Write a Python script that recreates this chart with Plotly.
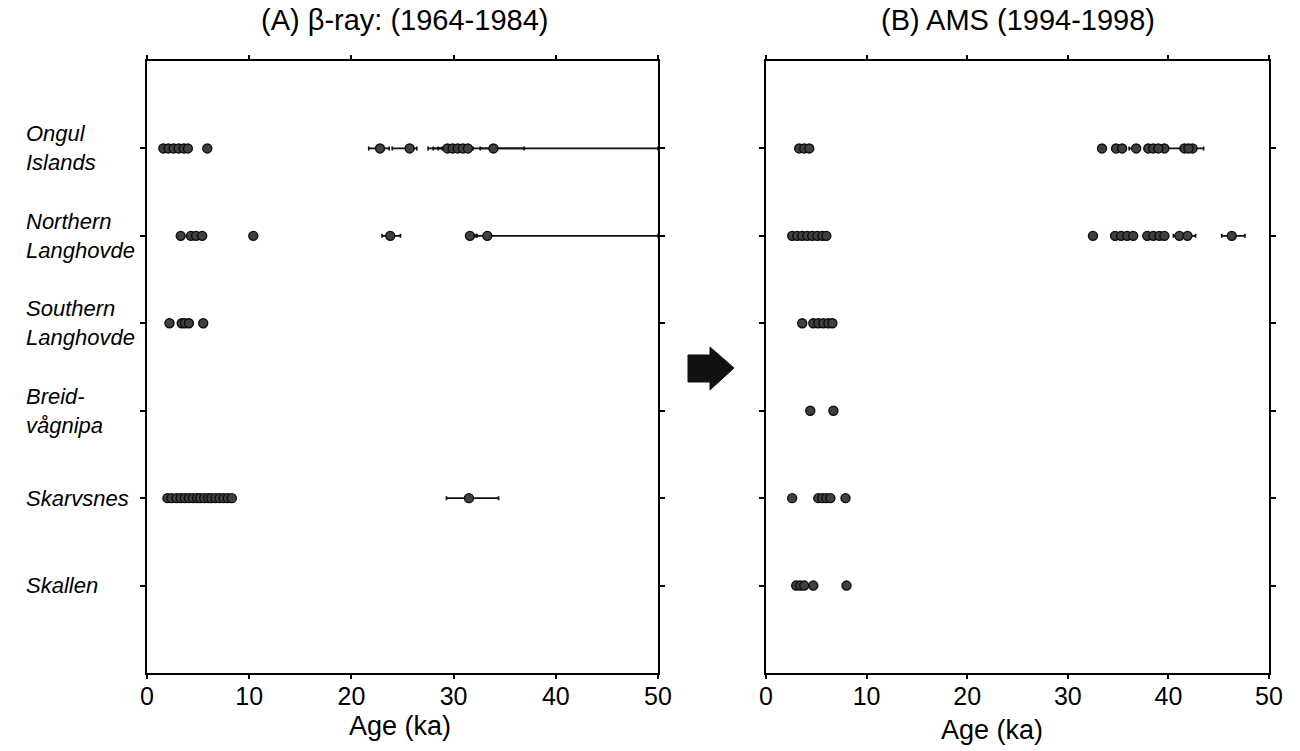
import plotly.graph_objects as go

# ---------------- data ----------------
sites = ["Ongul<br>Islands", "Northern<br>Langhovde", "Southern<br>Langhovde",
         "Breid-<br>vågnipa", "Skarvsnes", "Skallen"]
site_pos = [1, 2, 3, 4, 5, 6]

# Panel A : beta-ray dates (ka) -- points without visible error bars
a_ongul = [1.6, 2.1, 2.6, 3.1, 3.6, 4.0, 5.9]
a_northern = [3.3, 4.3, 4.8, 5.4, 10.4]
a_southern = [2.2, 3.4, 3.7, 4.1, 5.5]
a_breid = []
a_skarvsnes = [2.0, 2.4, 2.9, 3.3, 3.7, 4.1, 4.5, 4.9, 5.2, 5.6, 6.0, 6.3,
               6.7, 7.1, 7.5, 7.9, 8.3]
a_skallen = []

# Panel A : dates with error bars (age, minus, plus)
a_ongul_err_age = [22.8, 25.7, 29.4, 29.9, 30.4, 30.9, 31.4, 33.9]
a_ongul_err_minus = [1.1, 1.7, 1.9, 1.9, 1.9, 2.0, 1.0, 1.3]
a_ongul_err_plus = [0.9, 0.7, 1.0, 1.0, 1.0, 1.0, 5.5, 16.1]
a_northern_err_age = [23.8, 31.6, 33.3]
a_northern_err_minus = [0.8, 0.4, 1.0]
a_northern_err_plus = [1.0, 0.6, 16.7]
a_skarvsnes_err_age = [31.5]
a_skarvsnes_err_minus = [2.2]
a_skarvsnes_err_plus = [2.9]

# Panel B : AMS dates (ka)
b_ongul = [3.3, 3.8, 4.3, 33.4, 34.8, 35.4, 38.0, 38.5, 39.0, 41.6, 42.0]
b_northern = [2.6, 3.1, 3.6, 4.1, 4.6, 5.1, 5.6, 6.0, 32.5, 34.7, 35.3, 35.9,
              36.5, 37.9, 38.5, 39.1, 39.6]
b_southern = [3.6, 4.7, 5.2, 5.7, 6.2, 6.6]
b_breid = [4.4, 6.7]
b_skarvsnes = [2.6, 5.2, 5.6, 6.0, 6.4, 7.9]
b_skallen = [3.0, 3.4, 3.8, 4.7, 8.0]

b_ongul_err_age = [36.8, 39.6, 42.4]
b_ongul_err_minus = [0.7, 0.0, 1.0]
b_ongul_err_plus = [0.0, 1.6, 1.1]
b_northern_err_age = [41.1, 41.9, 46.3]
b_northern_err_minus = [0.6, 0.0, 1.0]
b_northern_err_plus = [0.0, 0.8, 1.3]

x_ticks = [0, 10, 20, 30, 40, 50]

# ---------------- figure ----------------
W, H = 1300, 751
ML, MR, MT, MB = 147, 31, 61, 78
PW = W - ML - MR
PH = H - MT - MB


def px(x):
    return (x - ML) / PW


def py(y):
    return (H - MB - y) / PH


MARK = dict(size=9, color="#404040", line=dict(color="#0d0d0d", width=1.4))

fig = go.Figure()


def add_plain(vals, row, xa, ya):
    if not vals:
        return
    fig.add_trace(go.Scatter(x=vals, y=[site_pos[row]] * len(vals), mode="markers",
                             marker=MARK, xaxis=xa, yaxis=ya, showlegend=False,
                             hoverinfo="x"))


def add_err(vals, em, ep, row, xa, ya):
    fig.add_trace(go.Scatter(
        x=vals, y=[site_pos[row]] * len(vals), mode="markers", marker=MARK,
        error_x=dict(type="data", symmetric=False, array=ep, arrayminus=em,
                     color="#111111", thickness=1.7, width=2),
        xaxis=xa, yaxis=ya, showlegend=False, hoverinfo="x"))


# Panel A
add_err(a_ongul_err_age, a_ongul_err_minus, a_ongul_err_plus, 0, "x", "y")
add_err(a_northern_err_age, a_northern_err_minus, a_northern_err_plus, 1, "x", "y")
add_err(a_skarvsnes_err_age, a_skarvsnes_err_minus, a_skarvsnes_err_plus, 4, "x", "y")
for i, vals in enumerate([a_ongul, a_northern, a_southern, a_breid, a_skarvsnes, a_skallen]):
    add_plain(vals, i, "x", "y")

# Panel B
add_err(b_ongul_err_age, b_ongul_err_minus, b_ongul_err_plus, 0, "x2", "y2")
add_err(b_northern_err_age, b_northern_err_minus, b_northern_err_plus, 1, "x2", "y2")
for i, vals in enumerate([b_ongul, b_northern, b_southern, b_breid, b_skarvsnes, b_skallen]):
    add_plain(vals, i, "x2", "y2")

FONT = "Liberation Sans, Arial, Helvetica, sans-serif"

xcommon = dict(range=[0, 50], tickvals=x_ticks, ticks="outside", ticklen=4, tickwidth=1.5,
               tickcolor="black", showline=True, linecolor="black", linewidth=2,
               mirror="ticks", showgrid=False, zeroline=False, ticklabelstandoff=-4,
               tickfont=dict(family=FONT, size=25, color="black"))
ycommon = dict(range=[7, 0], tickvals=site_pos, ticks="outside", ticklen=5, tickwidth=1.5,
               tickcolor="black", showline=True, linecolor="black", linewidth=2,
               mirror="ticks", showgrid=False, zeroline=False, showticklabels=False)

xA0, xA1 = 147, 658
xB0, xB1 = 766, 1269

fig.update_layout(
    width=W, height=H, margin=dict(l=ML, r=MR, t=MT, b=MB),
    paper_bgcolor="white", plot_bgcolor="white",
    xaxis=dict(domain=[px(xA0), px(xA1)], anchor="y", **xcommon),
    yaxis=dict(domain=[0, 1], anchor="x", **ycommon),
    xaxis2=dict(domain=[px(xB0), px(xB1)], anchor="y2", **xcommon),
    yaxis2=dict(domain=[0, 1], anchor="x2", **ycommon),
    font=dict(family=FONT, color="black"),
)

annots = []
# site labels
for lab, pos in zip(sites, site_pos):
    annots.append(dict(text="<i>" + lab + "</i>", x=px(24), xref="paper", xanchor="left",
                       y=pos, yref="y", yanchor="middle", align="left", showarrow=False,
                       font=dict(family=FONT, size=22, color="black")))
# panel titles
annots.append(dict(text="(A) β-ray: (1964-1984)", x=px(404), xref="paper", xanchor="center",
                   y=py(20), yref="paper", yanchor="middle", showarrow=False,
                   font=dict(family=FONT, size=29, color="black")))
annots.append(dict(text="(B) AMS (1994-1998)", x=px(1018), xref="paper", xanchor="center",
                   y=py(20), yref="paper", yanchor="middle", showarrow=False,
                   font=dict(family=FONT, size=29, color="black")))
# axis titles
annots.append(dict(text="Age (ka)", x=px(400), xref="paper", xanchor="center",
                   y=py(726), yref="paper", yanchor="middle", showarrow=False,
                   font=dict(family=FONT, size=27, color="black")))
annots.append(dict(text="Age (ka)", x=px(992), xref="paper", xanchor="center",
                   y=py(730), yref="paper", yanchor="middle", showarrow=False,
                   font=dict(family=FONT, size=27, color="black")))
fig.update_layout(annotations=annots)

# block arrow between panels
pts = [(688, 355), (710, 355), (710, 347), (734, 368), (710, 390), (710, 382), (688, 382)]
path = "M " + " L ".join(f"{px(a):.5f},{py(b):.5f}" for a, b in pts) + " Z"
fig.add_shape(type="path", path=path, xref="paper", yref="paper",
              fillcolor="#111111", line=dict(color="#111111", width=1))

fig.write_html("out.html", config={"displayModeBar": False},
               post_script="document.body.style.margin='0px';"
                           "document.documentElement.style.overflow='hidden';")
